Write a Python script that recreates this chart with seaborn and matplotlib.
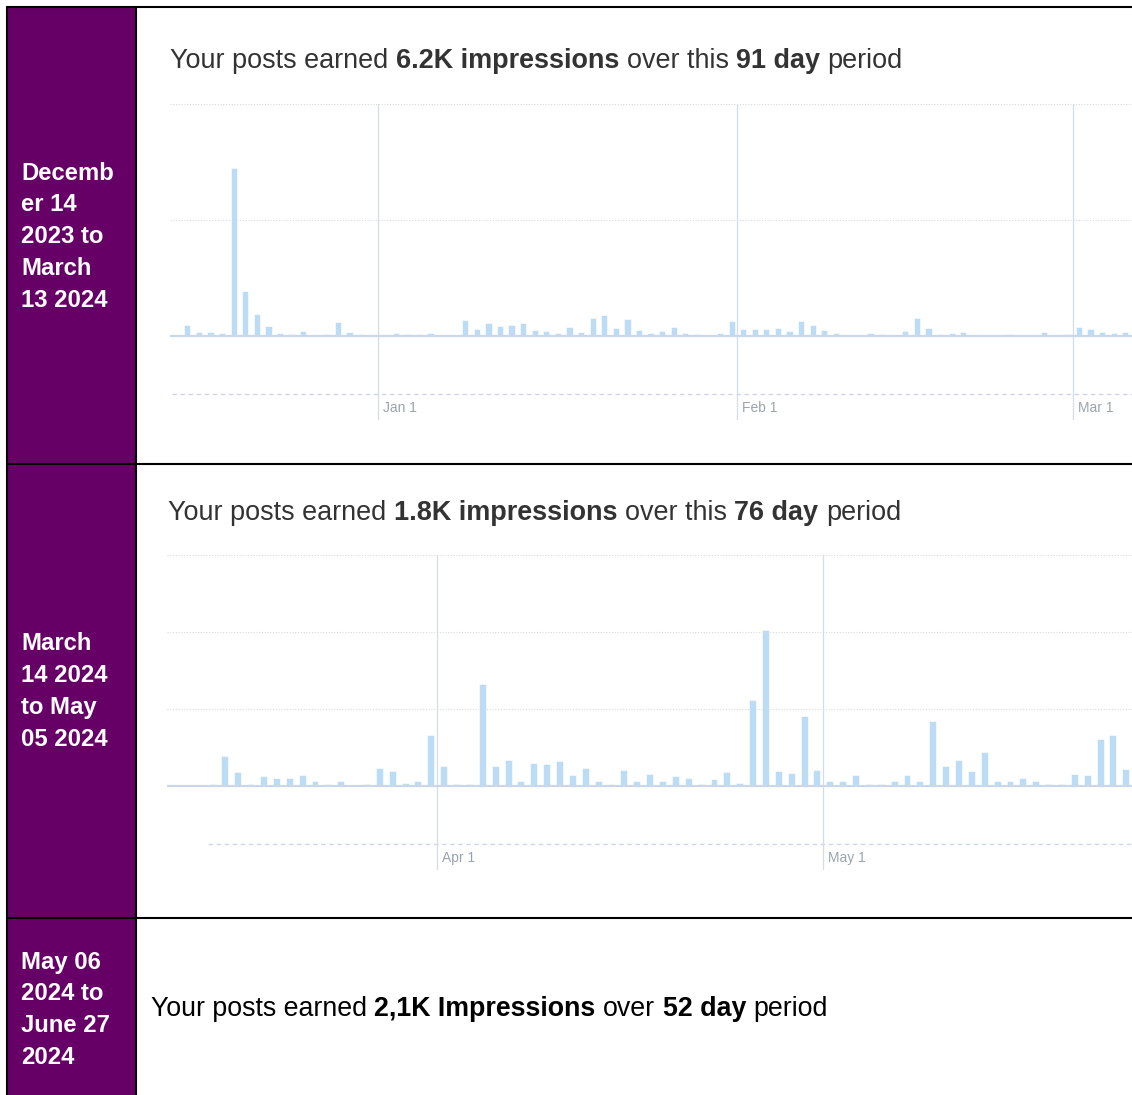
import pandas as pd            # dates for the daily bars
import numpy as np
import matplotlib
matplotlib.use("Agg")
import matplotlib.pyplot as plt
import seaborn as sns
from matplotlib.patches import Rectangle

# Daily LinkedIn-style impression counts, one value per day.
# Only the days that are visible in the cropped screenshot are kept.

# Row 1: December 14 2023 onwards
dec_mar_start = "2023-12-14"
dec_mar_impressions = [
    0, 97, 32, 32, 23, 1448, 388, 186, 86, 23,
    15, 40, 0, 15, 122, 32, 17, 0, 0, 23,
    15, 15, 23, 0, 0, 139, 57, 114, 86, 94,
    114, 49, 40, 23, 77, 32, 156, 182, 68, 148,
    49, 23, 40, 77, 23, 15, 0, 23, 128, 57,
    57, 57, 66, 40, 128, 94, 49, 23, 0, 0,
    23, 15, 0, 40, 156, 66, 15, 23, 32, 0,
    0, 0, 15, 0, 0, 32, 0, 15, 77, 57,
    32, 23, 32,
]
dec_mar_months = ["2024-01-01", "2024-02-01", "2024-03-01"]
dec_mar_month_labels = ["Jan 1", "Feb 1", "Mar 1"]
dec_mar_grid = [1000, 2000]

# Row 2: March 14 2024 onwards (the axis itself begins a few days earlier)
mar_may_axis_start = "2024-03-11"
mar_may_start = "2024-03-14"
mar_may_impressions = [
    3, 39, 18, 2, 13, 11, 10, 14, 7, 3,
    6, 0, 3, 23, 19, 4, 6, 66, 26, 3,
    2, 132, 26, 34, 6, 30, 29, 33, 14, 24,
    6, 3, 21, 6, 16, 6, 13, 10, 3, 9,
    18, 4, 112, 202, 19, 17, 91, 21, 6, 7,
    14, 3, 2, 6, 14, 6, 85, 26, 34, 20,
    44, 6, 7, 10, 6, 2, 3, 16, 14, 61,
    66, 22,
]
mar_may_months = ["2024-04-01", "2024-05-01"]
mar_may_month_labels = ["Apr 1", "May 1"]
mar_may_grid = [100, 200, 300]

# Left column labels and headline texts
row_labels = [
    ["Decemb", "er 14", "2023 to", "March", "13 2024"],
    ["March", "14 2024", "to May", "05 2024"],
    ["May 06", "2024 to", "June 27", "2024"],
]
headlines = [
    [("Your posts earned", "normal"), ("6.2K impressions", "bold"),
     ("over this", "normal"), ("91 day", "bold"), ("period", "normal")],
    [("Your posts earned", "normal"), ("1.8K impressions", "bold"),
     ("over this", "normal"), ("76 day", "bold"), ("period", "normal")],
    [("Your posts earned", "normal"), ("2,1K Impressions", "bold"),
     ("over", "normal"), ("52 day", "bold"), ("period", "normal")],
]

W, H = 1132, 1095
PURPLE = "#660066"
BAR = "#bcdcf5"
AXIS = "#ccd6eb"

sns.set_style("white")
plt.rcParams["font.family"] = ["Liberation Sans", "DejaVu Sans"]


def draw_rich(ax, renderer, x, y, parts, size, color):
    """Draw a line of text made of normal/bold pieces, separated by spaces."""
    space = 0.278 * size * 100 / 72
    for text, weight in parts:
        t = ax.text(x, y, text, fontsize=size, fontweight=weight, color=color,
                    ha="left", va="baseline")
        bb = t.get_window_extent(renderer=renderer)
        x += bb.width + space


def draw_chart(fig, box, axis_start, data_start, values, px_per_day,
               px_per_unit, grid, months, month_labels):
    """Daily bar chart placed at a pixel box (left, top, bottom, baseline)."""
    left, top, bottom, baseline = box
    ax = fig.add_axes([left / W, 1 - bottom / H, (W - left) / W, (bottom - top) / H])
    ax.patch.set_alpha(0)

    origin = pd.Timestamp(axis_start)
    dates = pd.date_range(data_start, periods=len(values), freq="D")
    xpos = (dates - origin).days.to_numpy() + 0.5
    df = pd.DataFrame({"day": xpos, "impressions": values})

    sns.barplot(data=df, x="day", y="impressions", native_scale=True,
                color=BAR, saturation=1, width=0.54, edgecolor="white",
                linewidth=0.4, ax=ax, zorder=2)

    ymax = (baseline - top) / px_per_unit
    ymin = -(bottom - baseline) / px_per_unit
    ax.set_xlim(0, (W - left) / px_per_day)
    ax.set_ylim(ymin, ymax)

    # dotted horizontal grid and the solid zero line
    for g in grid:
        ax.axhline(g, color="#d9d9d9", lw=0.8, ls=(0, (1, 1.5)), zorder=0.5, clip_on=False)
    ax.axhline(0, color=AXIS, lw=1.6, zorder=3)

    # dashed axis line below the bars, starting where the data starts
    first = (pd.Timestamp(data_start) - origin).days + 0.2
    dash_y = -58 / px_per_unit
    ax.hlines(dash_y, first, ax.get_xlim()[1], colors=AXIS, lw=1,
              linestyles=(0, (3.2, 2.6)), zorder=1)

    # month boundaries with their labels
    label_y = dash_y - 18 / px_per_unit
    for m, lab in zip(months, month_labels):
        mx = (pd.Timestamp(m) - origin).days
        ax.axvline(mx, color="#d6dce4", lw=0.9, zorder=1)
        ax.text(mx + 5 / px_per_day, label_y, lab, fontsize=10, color="#9aa3ad",
                ha="left", va="baseline")

    ax.set_xticks([])
    ax.set_yticks([])
    ax.set_xlabel("")
    ax.set_ylabel("")
    sns.despine(ax=ax, left=True, bottom=True)
    return ax


def main():
    fig = plt.figure(figsize=(W / 100, H / 100), dpi=100)
    renderer = fig.canvas.get_renderer()

    # background layer in pixel coordinates for the table frame and texts
    bg = fig.add_axes([0, 0, 1, 1])
    bg.set_xlim(0, W)
    bg.set_ylim(H, 0)
    bg.axis("off")

    bg.add_patch(Rectangle((7, 7), 129, H, facecolor=PURPLE, edgecolor="none"))
    lw = 1.5
    bg.plot([6, W], [7, 7], color="black", lw=lw, solid_capstyle="butt")
    bg.plot([7, 7], [6, H], color="black", lw=lw, solid_capstyle="butt")
    bg.plot([136, 136], [6, H], color="black", lw=lw, solid_capstyle="butt")
    for yy in [464, 918]:
        bg.plot([6, W], [yy, yy], color="black", lw=lw, solid_capstyle="butt")

    # purple column labels
    starts = [179.5, 650.5, 968.5]
    for lines, y0 in zip(row_labels, starts):
        for j, line in enumerate(lines):
            bg.text(21, y0 + j * 31.8, line, fontsize=17.2, fontweight="bold",
                    color="white", ha="left", va="baseline")

    # headlines
    draw_rich(bg, renderer, 170, 68, headlines[0], 19.45, "#333333")
    draw_rich(bg, renderer, 168, 520, headlines[1], 19.45, "#333333")
    draw_rich(bg, renderer, 151, 1016, headlines[2], 19.3, "black")

    # the two bar charts
    draw_chart(fig, (170, 104, 420, 336), dec_mar_start, dec_mar_start,
               dec_mar_impressions, 11.58, 0.116, dec_mar_grid,
               dec_mar_months, dec_mar_month_labels)
    draw_chart(fig, (167, 555, 870, 786), mar_may_axis_start, mar_may_start,
               mar_may_impressions, 12.87, 0.77, mar_may_grid,
               mar_may_months, mar_may_month_labels)

    fig.savefig("out.png", dpi=100)


if __name__ == "__main__":
    main()
